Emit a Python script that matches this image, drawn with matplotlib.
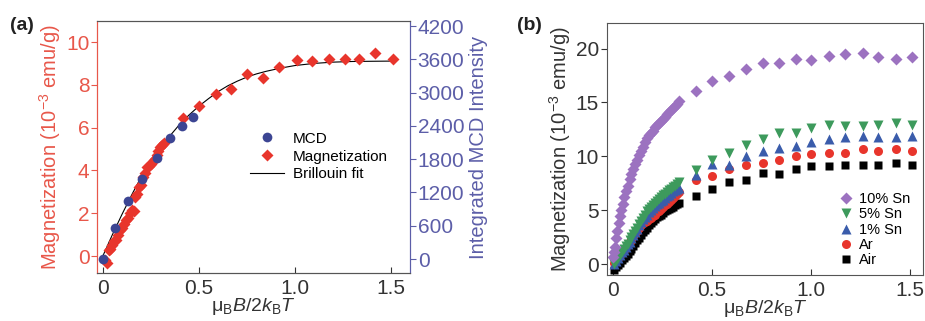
import matplotlib
matplotlib.use("Agg")
import matplotlib.pyplot as plt

plt.rcParams['font.family'] = ['Liberation Sans', 'DejaVu Sans']
plt.rcParams['mathtext.fontset'] = 'custom'
plt.rcParams['mathtext.rm'] = 'Liberation Sans'
plt.rcParams['mathtext.it'] = 'Liberation Sans:italic'
plt.rcParams['mathtext.bf'] = 'Liberation Sans:bold'

# ---------------- Panel (a) data ----------------
mag_x = [0.01, 0.02, 0.03, 0.04, 0.05, 0.06, 0.07, 0.08, 0.09, 0.10, 0.11, 0.12, 0.13, 0.14, 0.15, 0.16,
         0.17, 0.18, 0.19, 0.20, 0.21, 0.22, 0.23, 0.24, 0.25, 0.26, 0.27, 0.28, 0.29, 0.30, 0.31, 0.32,
         0.418, 0.50, 0.587, 0.67, 0.753, 0.836, 0.918, 1.01, 1.09, 1.18, 1.26, 1.335, 1.42, 1.509]
mag_y = [-0.19, -0.3, 0.28, 0.35, 0.5, 0.7, 0.75, 1.0, 1.2, 1.3, 1.5, 1.68, 1.8, 2.0, 2.15, 2.1,
         2.77, 2.9, 3.24, 3.3, 3.7, 3.9, 4.17, 4.2, 4.3, 4.45, 4.55, 4.7, 4.9, 5.1, 5.2, 5.3,
         6.43, 7.01, 7.57, 7.80, 8.50, 8.33, 8.85, 9.16, 9.13, 9.19, 9.19, 9.19, 9.47, 9.19]
mcd_x = [0.003, 0.064, 0.133, 0.204, 0.28, 0.35, 0.41, 0.469]
mcd_y = [-5, 564, 1045, 1437, 1826, 2181, 2403, 2565]
fit_x = [0.0, 0.05, 0.1, 0.15, 0.2, 0.25, 0.3, 0.35, 0.4, 0.45, 0.5, 0.55, 0.6, 0.65, 0.7, 0.75,
         0.8, 0.85, 0.9, 0.95, 1.0, 1.1, 1.2, 1.3, 1.4, 1.52]
fit_y = [0.0, 1.0, 1.95, 2.85, 3.7, 4.45, 5.1, 5.62, 6.15, 6.6, 7.0, 7.35, 7.68, 7.95, 8.17, 8.36,
         8.51, 8.63, 8.73, 8.82, 8.9, 9.0, 9.06, 9.09, 9.1, 9.11]

# ---------------- Panel (b) data ----------------
sparse_x = [0.42, 0.503, 0.587, 0.672, 0.756, 0.84, 0.925, 1.0, 1.09, 1.17, 1.26, 1.34, 1.43, 1.51]
dense_x = [0.005, 0.015, 0.025, 0.035, 0.045, 0.055, 0.065, 0.075, 0.085, 0.095, 0.105, 0.115,
           0.125, 0.135, 0.145, 0.155, 0.165, 0.175, 0.185, 0.195, 0.205, 0.215, 0.225, 0.235,
           0.245, 0.255, 0.265, 0.275, 0.285, 0.295, 0.305, 0.315, 0.325, 0.335]

sn10_dense_x = [0.003, 0.008, 0.012, 0.018, 0.024, 0.03, 0.036, 0.042, 0.05, 0.058, 0.066, 0.075,
                0.085, 0.095, 0.105, 0.115, 0.125, 0.135, 0.145, 0.155, 0.165, 0.175, 0.185, 0.195,
                0.205, 0.215, 0.225, 0.235, 0.245, 0.255, 0.265, 0.275, 0.285, 0.295, 0.305, 0.315,
                0.325, 0.335]
sn10_dense_y = [0.7, 1.1, 1.6, 2.4, 3.1, 3.8, 4.5, 5.0, 5.6, 6.2, 6.8, 7.3,
                7.9, 8.4, 8.8, 9.3, 9.7, 10.1, 10.5, 10.9, 11.3, 11.7, 12.0, 12.2,
                12.4, 12.7, 12.9, 13.1, 13.3, 13.5, 13.7, 13.9, 14.1, 14.3, 14.5, 14.7,
                14.9, 15.1]
sn10_sparse_y = [16.07, 17.0, 17.5, 18.08, 18.7, 18.7, 19.07, 18.9, 19.3, 19.5, 19.6, 19.2, 19.0, 19.2]

sn5_dense_y = [0.0, 0.3, 0.6, 0.9, 1.15, 1.4, 1.65, 1.9, 2.2, 2.5, 2.8, 3.1,
               3.4, 3.7, 4.0, 4.3, 4.6, 4.9, 5.1, 5.3, 5.5, 5.7, 5.9, 6.05,
               6.2, 6.4, 6.55, 6.7, 6.85, 7.0, 7.15, 7.3, 7.45, 7.6]
sn5_sparse_y = [8.7, 9.7, 10.3, 11.1, 11.6, 12.2, 12.2, 12.6, 12.9, 12.8, 12.8, 12.9, 13.1, 12.9]

sn1_dense_y = [0.0, 0.3, 0.6, 0.85, 1.1, 1.35, 1.6, 1.85, 2.1, 2.4, 2.7, 3.0,
               3.3, 3.6, 3.9, 4.2, 4.4, 4.6, 4.8, 5.0, 5.2, 5.4, 5.55, 5.7,
               5.85, 6.0, 6.15, 6.3, 6.45, 6.6, 6.75, 6.9, 7.0, 7.1]
sn1_sparse_y = [8.3, 9.3, 9.2, 10.0, 10.5, 10.8, 10.95, 11.35, 11.6, 11.8, 11.9, 11.8, 11.8, 11.9]

ar_dense_y = [0.1, 0.35, 0.6, 0.85, 1.1, 1.35, 1.6, 1.85, 2.1, 2.35, 2.6, 2.85,
              3.1, 3.35, 3.6, 3.8, 3.95, 4.05, 4.15, 4.3, 4.45, 4.6, 4.8, 4.95,
              5.1, 5.3, 5.45, 5.6, 5.8, 5.95, 6.1, 6.3, 6.5, 6.7]
ar_sparse_y = [7.8, 8.2, 8.8, 9.2, 9.35, 9.66, 10.0, 10.2, 10.28, 10.3, 10.7, 10.5, 10.7, 10.5]

air_dense_y = [-0.5, -0.3, -0.1, 0.15, 0.35, 0.55, 0.75, 0.95, 1.2, 1.45, 1.7, 1.95,
               2.2, 2.45, 2.7, 2.95, 3.2, 3.4, 3.6, 3.8, 4.0, 4.2, 4.35, 4.5,
               4.6, 4.75, 4.9, 5.0, 5.1, 5.2, 5.35, 5.45, 5.55, 5.65]
air_sparse_y = [6.3, 7.0, 7.65, 7.8, 8.5, 8.36, 8.8, 9.15, 9.15, 9.2, 9.2, 9.2, 9.4, 9.2]

RED = '#e8352c'
RED_AX = '#e8574a'
NAVY = '#3c4593'
BLUE_AX = '#5c5ea8'
PURPLE = '#9c72c0'
GREEN = '#3d9a5c'
BLUE = '#3a5cab'
DARK = '#333333'

fig = plt.figure(figsize=(9.25, 3.21), dpi=100)
fig.patch.set_facecolor('white')

xlabel = r'$\mathrm{μ}_\mathrm{B}B/2k_\mathrm{B}T$'
TS = 15
LS = 14.5
XS = 14

# ---------------- Panel (a) ----------------
axa = fig.add_axes([0.1049, 0.1495, 0.3384, 0.785])
hf, = axa.plot(fit_x, fit_y, color='black', lw=0.8, zorder=2)
hm, = axa.plot(mag_x, mag_y, 'D', color=RED, ms=6.5, mec='none', zorder=3)
axa.set_xlim(-0.03, 1.6)
axa.set_ylim(-0.79, 10.98)
axa.set_xticks([0, 0.5, 1.0, 1.5])
axa.set_xticklabels(['0', '0.5', '1.0', '1.5'])
axa.set_yticks([0, 2, 4, 6, 8, 10])
axa.tick_params(axis='x', direction='in', length=4, labelsize=TS, colors=DARK, pad=4)
axa.tick_params(axis='y', direction='out', length=4, labelsize=TS, colors=RED_AX, pad=1.5)
axa.set_ylabel('Magnetization (10$^{-3}$ emu/g)', color=RED_AX, fontsize=LS, labelpad=2)
axa.set_xlabel(xlabel, fontsize=XS, color=DARK, labelpad=-1)
for s in ['top', 'bottom']:
    axa.spines[s].set_color('#555555')
axa.spines['left'].set_color(RED_AX)
axa.spines['right'].set_color(BLUE_AX)

axr = axa.twinx()
hc, = axr.plot(mcd_x, mcd_y, 'o', color=NAVY, ms=7, mec='none', zorder=4)
axr.set_ylim(-252, 4290)
axr.set_yticks([0, 600, 1200, 1800, 2400, 3000, 3600, 4200])
axr.tick_params(axis='y', direction='out', length=4, labelsize=TS, colors=BLUE_AX, pad=1.5)
axr.set_ylabel('Integrated MCD Intensity', color=BLUE_AX, fontsize=LS, labelpad=3)
axr.spines['right'].set_color(BLUE_AX)
axr.spines['left'].set_color(RED_AX)
axr.spines['top'].set_color('#555555')
axr.spines['bottom'].set_color('#555555')

axr.legend([hc, hm, hf], ['MCD', 'Magnetization', 'Brillouin fit'], loc='upper left',
           bbox_to_anchor=(0.47, 0.585), frameon=False, fontsize=11, handlelength=2.2,
           handletextpad=0.6, labelspacing=0.25, borderaxespad=0)

fig.text(0.011, 0.92, '(a)', fontsize=14, fontweight='bold', color='#222222', va='center')

# ---------------- Panel (b) ----------------
axb = fig.add_axes([0.6559, 0.1433, 0.342, 0.786])
h_air, = axb.plot(dense_x + sparse_x, air_dense_y + air_sparse_y, 's', color='black', ms=6, mec='none')
h_ar, = axb.plot(dense_x + sparse_x, ar_dense_y + ar_sparse_y, 'o', color=RED, ms=6.5, mec='none')
h_1, = axb.plot(dense_x + sparse_x, sn1_dense_y + sn1_sparse_y, '^', color=BLUE, ms=7, mec='none')
h_5, = axb.plot(dense_x + sparse_x, sn5_dense_y + sn5_sparse_y, 'v', color=GREEN, ms=7, mec='none')
h_10, = axb.plot(sn10_dense_x + sparse_x, sn10_dense_y + sn10_sparse_y, 'D', color=PURPLE, ms=6, mec='none')
axb.set_xlim(-0.03, 1.565)
axb.set_ylim(-1.0, 22.4)
axb.set_xticks([0, 0.5, 1.0, 1.5])
axb.set_xticklabels(['0', '0.5', '1.0', '1.5'])
axb.set_yticks([0, 5, 10, 15, 20])
axb.tick_params(axis='x', direction='in', length=4, labelsize=TS, colors=DARK, pad=4)
axb.tick_params(axis='y', direction='out', length=4, labelsize=TS, colors=DARK, pad=1.5)
axb.set_ylabel('Magnetization (10$^{-3}$ emu/g)', color=DARK, fontsize=LS, labelpad=2)
axb.set_xlabel(xlabel, fontsize=XS, color=DARK, labelpad=-1)
for s in axb.spines.values():
    s.set_color('#555555')
axb.legend([h_10, h_5, h_1, h_ar, h_air], ['10% Sn', '5% Sn', '1% Sn', 'Ar', 'Air'],
           loc='lower right', bbox_to_anchor=(0.985, 0.0), frameon=False, fontsize=10.5,
           handlelength=1.0, handletextpad=0.4, labelspacing=0.08, borderaxespad=0.15)

fig.text(0.559, 0.92, '(b)', fontsize=14, fontweight='bold', color='#222222', va='center')

fig.savefig('out.png', dpi=100, facecolor='white')
